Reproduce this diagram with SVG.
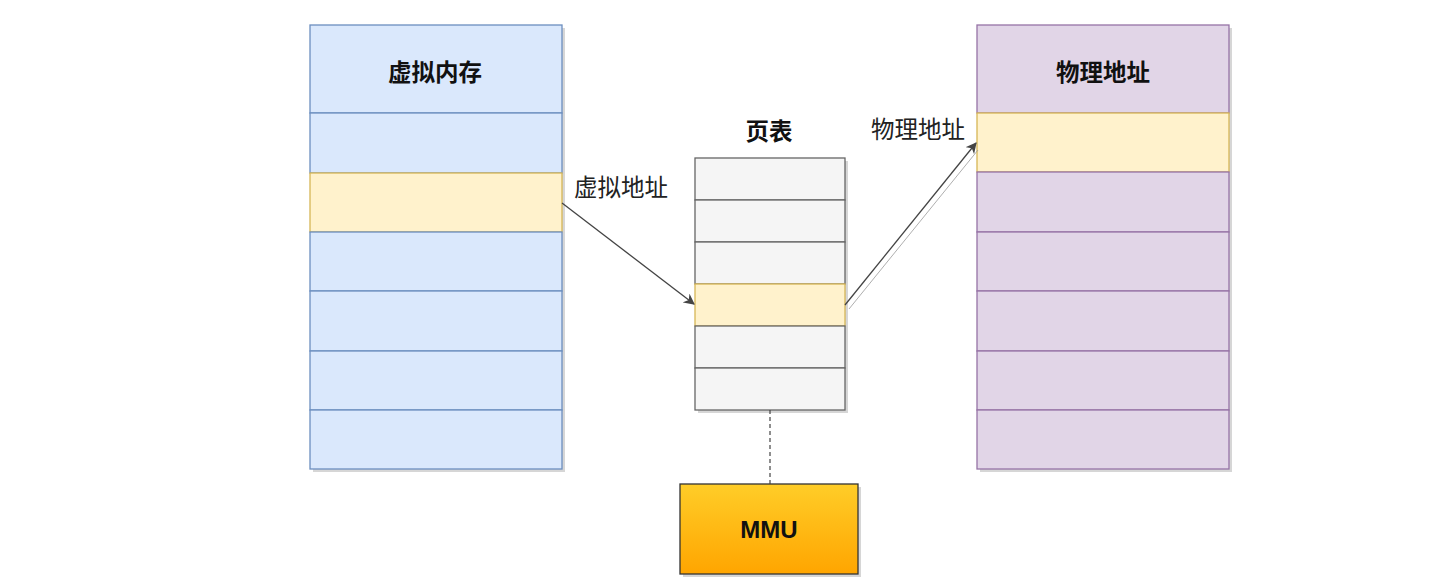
<svg xmlns="http://www.w3.org/2000/svg" width="1445" height="582" viewBox="0 0 1445 582">
<defs>
<linearGradient id="mmuGrad" x1="0" y1="0" x2="0" y2="1">
<stop offset="0" stop-color="#ffcd28"/>
<stop offset="1" stop-color="#ffa500"/>
</linearGradient>
<marker id="arrow" viewBox="0 0 10 10" refX="9" refY="5" markerWidth="11" markerHeight="11" markerUnits="userSpaceOnUse" orient="auto">
<path d="M0,0 L10,5 L0,10 L3,5 Z" fill="#444"/>
</marker>
</defs>
<style>
.blue{fill:#dae8fc;stroke:#6c8ebf;stroke-width:1.3}
.yellow{fill:#fff2cc;stroke:#d6b656;stroke-width:1.3}
.purple{fill:#e1d5e7;stroke:#9673a6;stroke-width:1.3}
.gray{fill:#f5f5f5;stroke:#666666;stroke-width:1.3}
.shadow{fill:#bbbbbb;opacity:0.6}
.title{font-family:"Noto Sans CJK SC","Liberation Sans",sans-serif;font-size:23.5px;font-weight:bold;fill:#111;text-anchor:middle}
.label{font-family:"Noto Sans CJK SC","Liberation Sans",sans-serif;font-size:23.5px;fill:#222;text-anchor:middle}
.conn{fill:none;stroke:#444;stroke-width:1.3}
</style>
<rect width="1445" height="582" fill="#ffffff"/>

<g id="virtual-memory">
<rect class="shadow" x="313" y="28" width="252" height="444"/>
<rect class="blue" x="310" y="25" width="252" height="88"/>
<rect class="blue" x="310" y="113" width="252" height="60"/>
<rect class="yellow" x="310" y="173" width="252" height="59"/>
<rect class="blue" x="310" y="232" width="252" height="59"/>
<rect class="blue" x="310" y="291" width="252" height="60"/>
<rect class="blue" x="310" y="351" width="252" height="59"/>
<rect class="blue" x="310" y="410" width="252" height="59"/>
<text class="title" x="435" y="81">虚拟内存</text>
</g>

<g id="page-table">
<rect class="shadow" x="698" y="161" width="150" height="252"/>
<rect class="gray" x="695" y="158" width="150" height="42"/>
<rect class="gray" x="695" y="200" width="150" height="42"/>
<rect class="gray" x="695" y="242" width="150" height="42"/>
<rect class="yellow" x="695" y="284" width="150" height="42"/>
<rect class="gray" x="695" y="326" width="150" height="42"/>
<rect class="gray" x="695" y="368" width="150" height="42"/>
<text class="title" x="769" y="140">页表</text>
</g>

<g id="physical-memory">
<rect class="shadow" x="980" y="28" width="252" height="444"/>
<rect class="purple" x="977" y="25" width="252" height="88"/>
<rect class="yellow" x="977" y="113" width="252" height="59"/>
<rect class="purple" x="977" y="172" width="252" height="60"/>
<rect class="purple" x="977" y="232" width="252" height="59"/>
<rect class="purple" x="977" y="291" width="252" height="60"/>
<rect class="purple" x="977" y="351" width="252" height="59"/>
<rect class="purple" x="977" y="410" width="252" height="59"/>
<text class="title" x="1103" y="81">物理地址</text>
</g>

<g id="mmu">
<rect class="shadow" x="683" y="487" width="178" height="90"/>
<rect x="680" y="484" width="178" height="90" fill="url(#mmuGrad)" stroke="#333" stroke-width="1.3"/>
<text x="769" y="538" font-family="Liberation Sans, sans-serif" font-size="24" font-weight="bold" fill="#111" text-anchor="middle">MMU</text>
</g>

<g id="connectors">
<path class="conn" d="M562,203 L694,304" marker-end="url(#arrow)"/>
<text class="label" x="621" y="196">虚拟地址</text>
<path class="conn" d="M845,305 L976,143" marker-end="url(#arrow)"/>
<path d="M849,309 L978,150" fill="none" stroke="#999" stroke-width="0.8"/>
<text class="label" x="918" y="138">物理地址</text>
<path d="M770,410 L770,484" fill="none" stroke="#444" stroke-width="1.2" stroke-dasharray="4,3"/>
</g>
</svg>
